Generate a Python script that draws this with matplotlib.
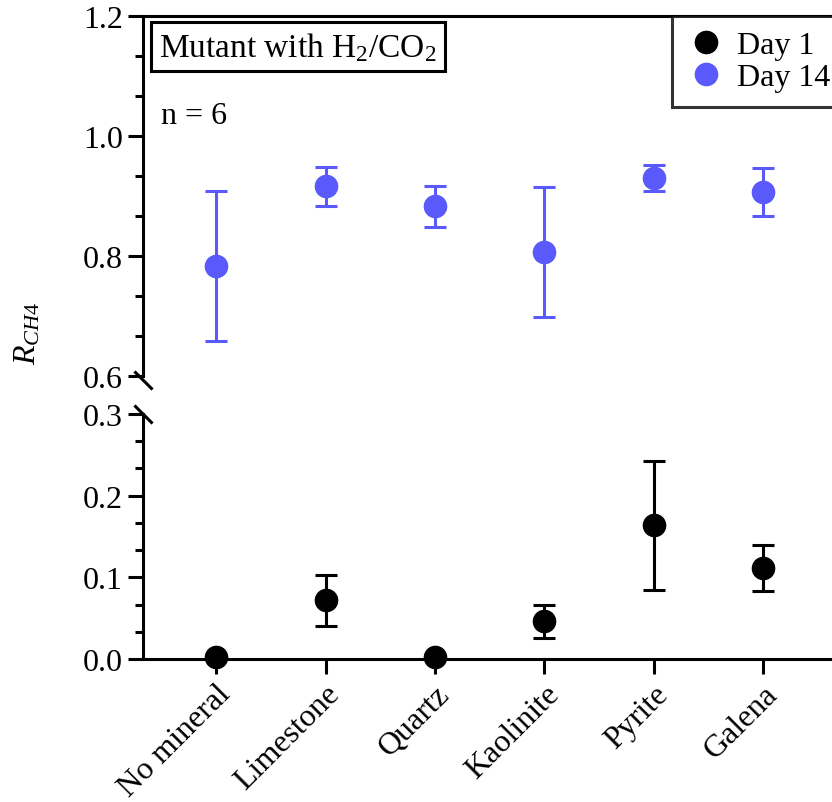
import matplotlib.pyplot as plt
from matplotlib.lines import Line2D
from matplotlib.ticker import MultipleLocator, AutoMinorLocator

plt.rcParams['font.family'] = 'Liberation Serif'
plt.rcParams['mathtext.fontset'] = 'custom'
plt.rcParams['mathtext.rm'] = 'Liberation Serif'
plt.rcParams['mathtext.it'] = 'Liberation Serif:italic'

minerals = ['No mineral', 'Limestone', 'Quartz', 'Kaolinite', 'Pyrite', 'Galena']
day1_mean = [0.002, 0.072, 0.002, 0.046, 0.164, 0.111]
day1_err = [0.0, 0.031, 0.0, 0.020, 0.079, 0.028]
day14_mean = [0.784, 0.916, 0.883, 0.807, 0.930, 0.906]
day14_err = [0.125, 0.032, 0.034, 0.108, 0.022, 0.040]

blue = '#5959fc'
lw = 2.2
fs = 23

fig = plt.figure(figsize=(8.32, 8.03), dpi=100)
W, H = 832, 803
left = 143 / W
width = 693.5 / W
ax_top = fig.add_axes([left, (H - 377) / H, width, 360 / H])
ax_bot = fig.add_axes([left, (H - 660) / H, width, 245 / H])

x = list(range(len(minerals)))

ax_top.errorbar(x, day14_mean, yerr=day14_err, fmt='o', color=blue, ms=16,
                capsize=8, elinewidth=lw, capthick=lw, zorder=3)
ax_bot.errorbar(x, day1_mean, yerr=day1_err, fmt='o', color='black', ms=16,
                capsize=8, elinewidth=lw, capthick=lw, zorder=3,
                clip_on=False)

for ax in (ax_top, ax_bot):
    ax.set_xlim(-0.667, 5.667)
    for s in ax.spines.values():
        s.set_linewidth(lw)
    ax.tick_params(axis='both', which='major', length=11, width=lw, labelsize=fs, pad=3.5)
    ax.tick_params(axis='y', which='minor', length=6, width=lw)
    ax.yaxis.set_minor_locator(AutoMinorLocator(3))

ax_top.set_ylim(0.6, 1.2)
ax_top.yaxis.set_major_locator(MultipleLocator(0.2))
ax_top.yaxis.set_major_formatter(plt.FormatStrFormatter('%.1f'))
ax_top.spines['bottom'].set_visible(False)
ax_top.tick_params(axis='x', which='both', bottom=False, labelbottom=False)

ax_bot.set_ylim(0.0, 0.3)
ax_bot.yaxis.set_major_locator(MultipleLocator(0.1))
ax_bot.yaxis.set_major_formatter(plt.FormatStrFormatter('%.1f'))
ax_bot.spines['top'].set_visible(False)
ax_bot.set_xticks(x)
ax_bot.set_xticklabels(minerals, rotation=45, ha='right', va='top',
                       rotation_mode='anchor', fontsize=fs)

# break marks on the y axis
brk = dict(marker=[(-1, 1), (1, -1)], markersize=13, linestyle='none',
           color='black', mew=lw, clip_on=False)
ax_top.plot([0], [-0.01], transform=ax_top.transAxes, **brk)
ax_bot.plot([0], [1], transform=ax_bot.transAxes, **brk)

fig.text(28 / W, 1 - 333 / H, '$R_{CH4}$', rotation=90, fontsize=fs,
         ha='center', va='center')

fig.text(159 / W, 1 - 31 / H, 'Mutant with H$_2$/CO$_2$', fontsize=24,
         ha='left', va='top',
         bbox=dict(boxstyle='square,pad=0.25', fc='white', ec='black', lw=lw))
fig.text(161 / W, 1 - 116 / H, 'n = 6', fontsize=fs, ha='left', va='center')

handles = [Line2D([], [], marker='o', ls='none', color='black', ms=16),
           Line2D([], [], marker='o', ls='none', color=blue, ms=16)]
leg = fig.legend(handles, ['Day 1', 'Day 14'], loc='upper left',
                 bbox_to_anchor=(672 / W, 1 - 17 / H), fontsize=fs,
                 frameon=True, fancybox=False, edgecolor='black',
                 borderaxespad=0, handletextpad=0.4, handlelength=1.2,
                 labelspacing=0.1, borderpad=0.45)
leg.get_frame().set_linewidth(lw)

fig.savefig('out.png', dpi=100)
